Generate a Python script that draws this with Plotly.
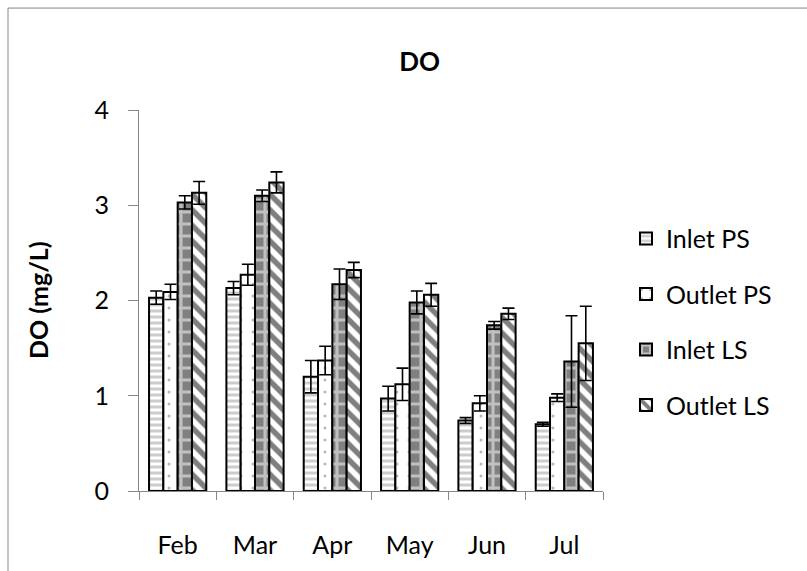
import plotly.graph_objects as go

# Monthly dissolved oxygen, mean and error (mg/L)
months = ["Feb", "Mar", "Apr", "May", "Jun", "Jul"]

inlet_ps = [2.03, 2.13, 1.20, 0.97, 0.74, 0.70]
inlet_ps_err = [0.07, 0.07, 0.17, 0.13, 0.03, 0.02]

outlet_ps = [2.09, 2.27, 1.37, 1.12, 0.92, 0.98]
outlet_ps_err = [0.08, 0.11, 0.15, 0.17, 0.08, 0.04]

inlet_ls = [3.03, 3.10, 2.17, 1.98, 1.74, 1.36]
inlet_ls_err = [0.07, 0.06, 0.16, 0.12, 0.04, 0.48]

outlet_ls = [3.13, 3.24, 2.32, 2.06, 1.86, 1.55]
outlet_ls_err = [0.12, 0.11, 0.08, 0.12, 0.06, 0.39]

series = [
    ("Inlet PS", inlet_ps, inlet_ps_err, dict(shape="-", fgcolor="#9a9a9a", bgcolor="white", size=6, solidity=0.5)),
    ("Outlet PS", outlet_ps, outlet_ps_err, dict(shape=".", fgcolor="#707070", bgcolor="white", size=12, solidity=0.05)),
    ("Inlet LS", inlet_ls, inlet_ls_err, dict(shape="+", fgcolor="white", bgcolor="#808080", size=12, solidity=0.45)),
    ("Outlet LS", outlet_ls, outlet_ls_err, dict(shape="\\", fgcolor="black", bgcolor="white", size=11, solidity=0.5)),
]

FONT = "Lato, 'Open Sans', sans-serif"

fig = go.Figure()
for name, vals, errs, pattern in series:
    fig.add_trace(go.Bar(
        x=months, y=vals, name=name, legendgroup=name,
        marker=dict(color="white", pattern=pattern,
                    line=dict(color="black", width=2)),
        error_y=dict(type="data", array=errs, visible=True,
                     color="black", thickness=1.6, width=6),
    ))

# plot area spans x 139..603 px, y 110..495 px
L, R, T, B = 139, 603, 110, 495
W, H = 807, 571
pw, ph = R - L, B - T

def px_x(p):
    return (p - L) / pw

def px_y(p):
    return (B - p) / ph

fig.update_layout(
    width=W, height=H,
    margin=dict(l=L, r=W - R, t=T, b=H - B, pad=0),
    paper_bgcolor="white", plot_bgcolor="white",
    font=dict(family=FONT, size=25, color="black"),
    barmode="group", bargap=0.26, bargroupgap=0,
    showlegend=True,
    legend=dict(x=px_x(626), xanchor="left", y=px_y(324), yanchor="middle",
                font=dict(size=25), tracegroupgap=20, bgcolor="rgba(0,0,0,0)"),
    title=dict(text="<b>DO</b>", x=0.52, xanchor="center",
               y=1 - 62 / H, yanchor="middle", font=dict(size=26)),
    xaxis=dict(showline=True, linecolor="#868686", linewidth=1,
               ticks="outside", tickson="boundaries", ticklen=8, tickcolor="#868686",
               showgrid=False, ticklabelstandoff=32),
    yaxis=dict(range=[0, 4], dtick=1, showline=True, linecolor="#868686", linewidth=1,
               ticks="outside", ticklen=10, tickcolor="#868686",
               showgrid=False, zeroline=False, ticklabelstandoff=14),
    annotations=[dict(text="<b>DO (mg/L)</b>", textangle=-90,
                      x=px_x(38), y=px_y(302), xref="paper", yref="paper",
                      xanchor="center", yanchor="middle",
                      showarrow=False, font=dict(size=25))],
    shapes=[dict(type="rect", xref="paper", yref="paper",
                 x0=px_x(8), x1=px_x(830), y0=px_y(590), y1=px_y(7),
                 line=dict(color="#868686", width=1), fillcolor="rgba(0,0,0,0)",
                 layer="below")],
)

fig.write_html("out.html")
